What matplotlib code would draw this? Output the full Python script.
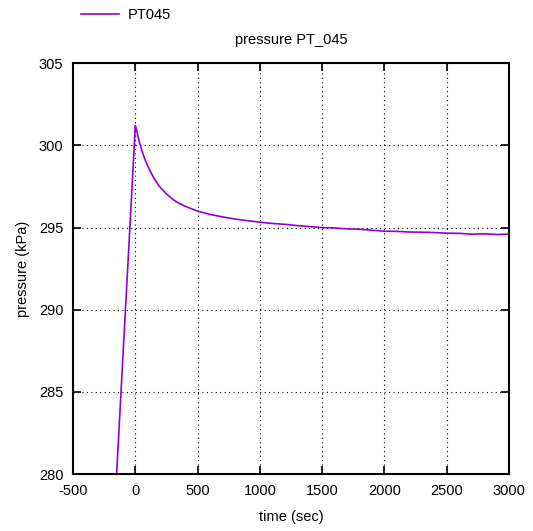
import numpy as np
from matplotlib import pyplot as plt

plt.rcParams['font.family'] = ['Liberation Sans', 'DejaVu Sans']
plt.rcParams['axes.unicode_minus'] = False

# time (sec) and pressure (kPa)
time = [-200, -150, -100, -50, 0, 10, 20, 35, 50, 65, 80, 100, 125, 150, 175,
        200, 250, 300, 350, 400, 450, 500, 600, 700, 800, 900, 1000, 1100, 1200,
        1300, 1400, 1500, 1600, 1700, 1800, 1900, 2000, 2100, 2200, 2300, 2400,
        2500, 2600, 2700, 2800, 2900, 3000]
pressure = [272.9, 280.0, 287.1, 294.1, 301.2, 300.95, 300.6, 300.15, 299.75,
            299.4, 299.1, 298.75, 298.35, 298.0, 297.7, 297.45, 297.05, 296.72,
            296.48, 296.3, 296.15, 296.0, 295.8, 295.65, 295.52, 295.42, 295.33,
            295.25, 295.2, 295.12, 295.06, 295.0, 294.98, 294.92, 294.9, 294.84,
            294.78, 294.77, 294.73, 294.72, 294.7, 294.66, 294.65, 294.6, 294.62,
            294.58, 294.6]

fig = plt.figure(figsize=(5.33, 5.31), dpi=100)
ax = fig.add_axes([0.137, 0.107, 0.818, 0.774])

line, = ax.plot(time, pressure, color='#9400d3', lw=1.2, label='PT045')

ax.set_xlim(-500, 3000)
ax.set_ylim(280, 305)
ax.set_xticks(np.arange(-500, 3001, 500))
ax.set_yticks(np.arange(280, 306, 5))
ax.grid(True, color='black', linestyle=(0, (1, 3)), lw=0.8)
ax.tick_params(direction='in', length=6, width=1.2, top=True, right=True,
               labelsize=10.5)
ax.tick_params(axis='x', pad=7)
ax.tick_params(axis='y', pad=7)
for s in ax.spines.values():
    s.set_linewidth(1.5)

ax.set_xlabel('time (sec)', fontsize=10.5, labelpad=9)
ax.set_ylabel('pressure (kPa)', fontsize=10.5, labelpad=6)
ax.set_title('pressure PT_045', fontsize=10.5, pad=14)

fig.legend(handles=[line], loc='upper left', bbox_to_anchor=(0.128, 1.01),
           frameon=False, fontsize=10.5, handlelength=2.6, handletextpad=0.6)

fig.savefig('out.png', dpi=100)
